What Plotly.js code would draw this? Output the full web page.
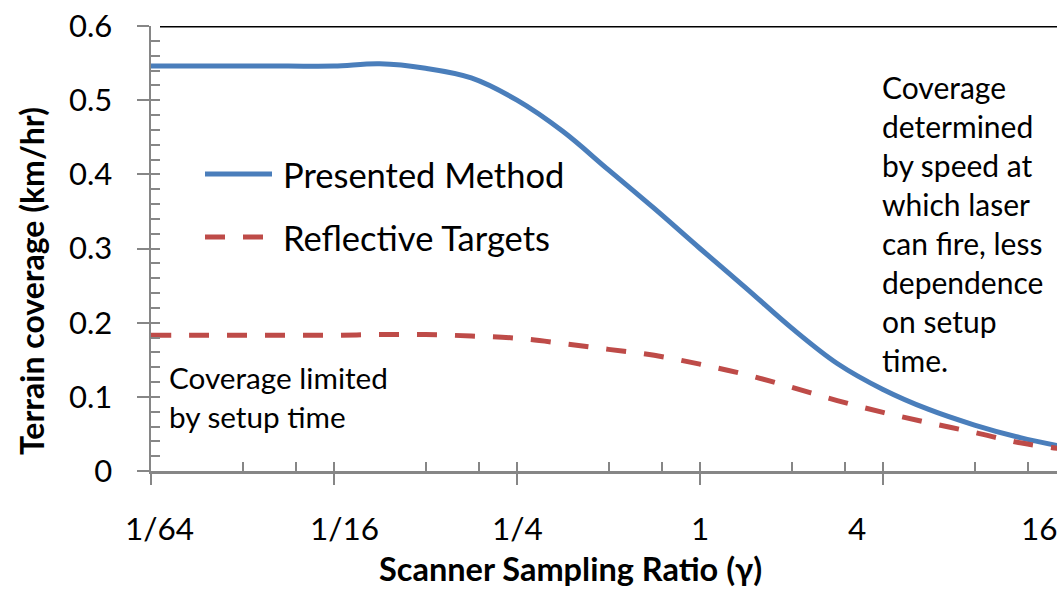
<!DOCTYPE html>
<html>
<head>
<meta charset="utf-8">
<script src="https://cdn.plot.ly/plotly-3.0.1.min.js"></script>
<style>
html,body{margin:0;padding:0;overflow:hidden;background:#fff;}
#chart{width:1066px;height:589px;}
</style>
</head>
<body>
<div id="chart"></div>
<script>
// ---- data ----
const gamma = [1/64, Math.pow(2,-5.5), 1/32, Math.pow(2,-4.5), 1/16, Math.pow(2,-3.5), 1/8, Math.pow(2,-2.5), 1/4,
               Math.pow(2,-1.5), 1/2, Math.pow(2,-0.5), 1, Math.pow(2,0.5), 2, Math.pow(2,1.5), 4, Math.pow(2,2.5), 8, Math.pow(2,3.5), 16];
const presentedMethod = [0.546, 0.546, 0.546, 0.546, 0.546, 0.549, 0.543, 0.530, 0.500,
                         0.458, 0.406, 0.354, 0.300, 0.247, 0.193, 0.145, 0.110, 0.083, 0.062, 0.045, 0.032];
const reflectiveTargets = [0.183, 0.183, 0.183, 0.183, 0.183, 0.184, 0.184, 0.182, 0.179,
                           0.172, 0.164, 0.156, 0.144, 0.130, 0.113, 0.095, 0.079, 0.065, 0.052, 0.038, 0.029];
const seriesNames = ["Presented Method", "Reflective Targets"];
const xTickVals = [1/64, 1/16, 1/4, 1, 4, 16];
const xTickText = ["1/64", "1/16", "1/4", "1", "4", "16"];
const xMinorVals = [2/64, 3/64, 2/16, 3/16, 2/4, 3/4, 2, 3, 8, 12];
const yTickVals = [0, 0.1, 0.2, 0.3, 0.4, 0.5, 0.6];
const yTickText = ["0", "0.1", "0.2", "0.3", "0.4", "0.5", "0.6"];
const yMinorVals = [];
for (let i = 0; i <= 30; i++) if (i % 5) yMinorVals.push(+(i*0.02).toFixed(2));
const xTitle = "Scanner Sampling Ratio (γ)";
const yTitle = "Terrain coverage (km/hr)";
const noteLeft = "Coverage limited<br>by setup time";
const noteRight = "Coverage<br>determined<br>by speed at<br>which laser<br>can fire, less<br>dependence<br>on setup<br>time.";

// ---- layout helpers ----
const W = 1066, H = 589;
const L = 151, T = 26, B = 118, R = 0;
const plotW = W - L - R, plotH = H - T - B;
const px = p => (p - L) / plotW;       // pixel x -> paper
const py = p => (H - B - p) / plotH;    // pixel y -> paper
const FONT = "Lato, 'Open Sans', sans-serif";
const blue = "#4a7ebb", red = "#be4b48", axisGray = "#868686";
const xRange = [Math.log10(1/64), Math.log10(16)];

const traces = [
  {x: gamma, y: presentedMethod, name: seriesNames[0], type: "scatter", mode: "lines",
   line: {color: blue, width: 5, shape: "spline", smoothing: 1}, showlegend: false},
  {x: gamma, y: reflectiveTargets, name: seriesNames[1], type: "scatter", mode: "lines",
   line: {color: red, width: 5, shape: "spline", smoothing: 1, dash: "20px,18px"}, showlegend: false},
  // empty helper trace so the overlay axes (inner half of major ticks) are drawn
  {x: [], y: [], xaxis: "x2", yaxis: "y2", type: "scatter", mode: "lines", showlegend: false, hoverinfo: "skip"}
];

const tickAnn = xTickVals.map((v, i) => ({
  x: Math.log10(v), xref: "x", y: 0, yref: "paper", yshift: -57,
  xshift: [8, 10, 0, 0, -26, -27][i],
  text: xTickText[i], showarrow: false, xanchor: "center", yanchor: "middle",
  font: {family: FONT, size: 31.5, color: "#000"}
}));

const layout = {
  width: W, height: H,
  margin: {l: L, r: R, t: T, b: B, pad: 0},
  paper_bgcolor: "#fff", plot_bgcolor: "#fff",
  showlegend: false,
  xaxis: {
    type: "log", range: xRange,
    tickvals: xTickVals, ticktext: xTickText, showticklabels: false,
    ticks: "outside", ticklen: 11, tickwidth: 2, tickcolor: axisGray,
    showline: true, linecolor: axisGray, linewidth: 2.5,
    showgrid: false, zeroline: false,
    minor: {tickmode: "array", tickvals: xMinorVals, ticks: "inside", ticklen: 9, tickwidth: 2, tickcolor: axisGray, showgrid: false}
  },
  xaxis2: {
    type: "log", range: xRange, overlaying: "x", anchor: "y2", side: "bottom",
    tickvals: xTickVals, showticklabels: false,
    ticks: "inside", ticklen: 9, tickwidth: 2, tickcolor: axisGray,
    showline: false, showgrid: false, zeroline: false
  },
  yaxis: {
    range: [0, 0.6], tickvals: yTickVals, ticktext: yTickText,
    ticks: "outside", ticklen: 12, tickwidth: 2, tickcolor: axisGray,
    showline: true, linecolor: axisGray, linewidth: 2.5,
    showgrid: false, zeroline: false,
    ticklabelstandoff: 18,
    tickfont: {family: FONT, size: 31, color: "#000"},
    minor: {tickmode: "array", tickvals: yMinorVals, ticks: "inside", ticklen: 9, tickwidth: 2, tickcolor: axisGray, showgrid: false}
  },
  yaxis2: {
    range: [0, 0.6], overlaying: "y", anchor: "x2", side: "left",
    tickvals: yTickVals, showticklabels: false,
    ticks: "inside", ticklen: 9, tickwidth: 2, tickcolor: axisGray,
    showline: false, showgrid: false, zeroline: false
  },
  shapes: [
    {type: "line", xref: "paper", yref: "y", x0: px(160), x1: 1, y0: 0.6, y1: 0.6, line: {color: "#000", width: 3}},
    {type: "line", xref: "paper", yref: "paper", x0: px(205), x1: px(272), y0: py(174), y1: py(174), line: {color: blue, width: 5}},
    {type: "line", xref: "paper", yref: "paper", x0: px(205), x1: px(272), y0: py(237), y1: py(237), line: {color: red, width: 5, dash: "20px,18px"}}
  ],
  annotations: tickAnn.concat([
    {x: px(281), xref: "paper", y: py(174), yref: "paper", text: seriesNames[0], showarrow: false,
     xanchor: "left", yanchor: "middle", font: {family: FONT, size: 34.5, color: "#000"}},
    {x: px(281), xref: "paper", y: py(237), yref: "paper", text: seriesNames[1], showarrow: false,
     xanchor: "left", yanchor: "middle", font: {family: FONT, size: 34.5, color: "#000"}},
    {x: px(167), xref: "paper", y: py(397), yref: "paper", text: noteLeft, showarrow: false, align: "left",
     xanchor: "left", yanchor: "middle", font: {family: FONT, size: 29.7, color: "#000"}},
    {x: px(880), xref: "paper", y: py(223), yref: "paper", text: noteRight, showarrow: false, align: "left",
     xanchor: "left", yanchor: "middle", font: {family: FONT, size: 30, color: "#000"}},
    {x: px(570), xref: "paper", y: py(568), yref: "paper", text: "<b>" + xTitle + "</b>", showarrow: false,
     xanchor: "center", yanchor: "middle", font: {family: FONT, size: 32.5, color: "#000"}},
    {x: px(31), xref: "paper", y: py(281), yref: "paper", text: "<b>" + yTitle + "</b>", showarrow: false, textangle: -90,
     xanchor: "center", yanchor: "middle", font: {family: FONT, size: 32, color: "#000"}}
  ])
};

Plotly.newPlot("chart", traces, layout, {displayModeBar: false, staticPlot: true});
</script>
</body>
</html>
